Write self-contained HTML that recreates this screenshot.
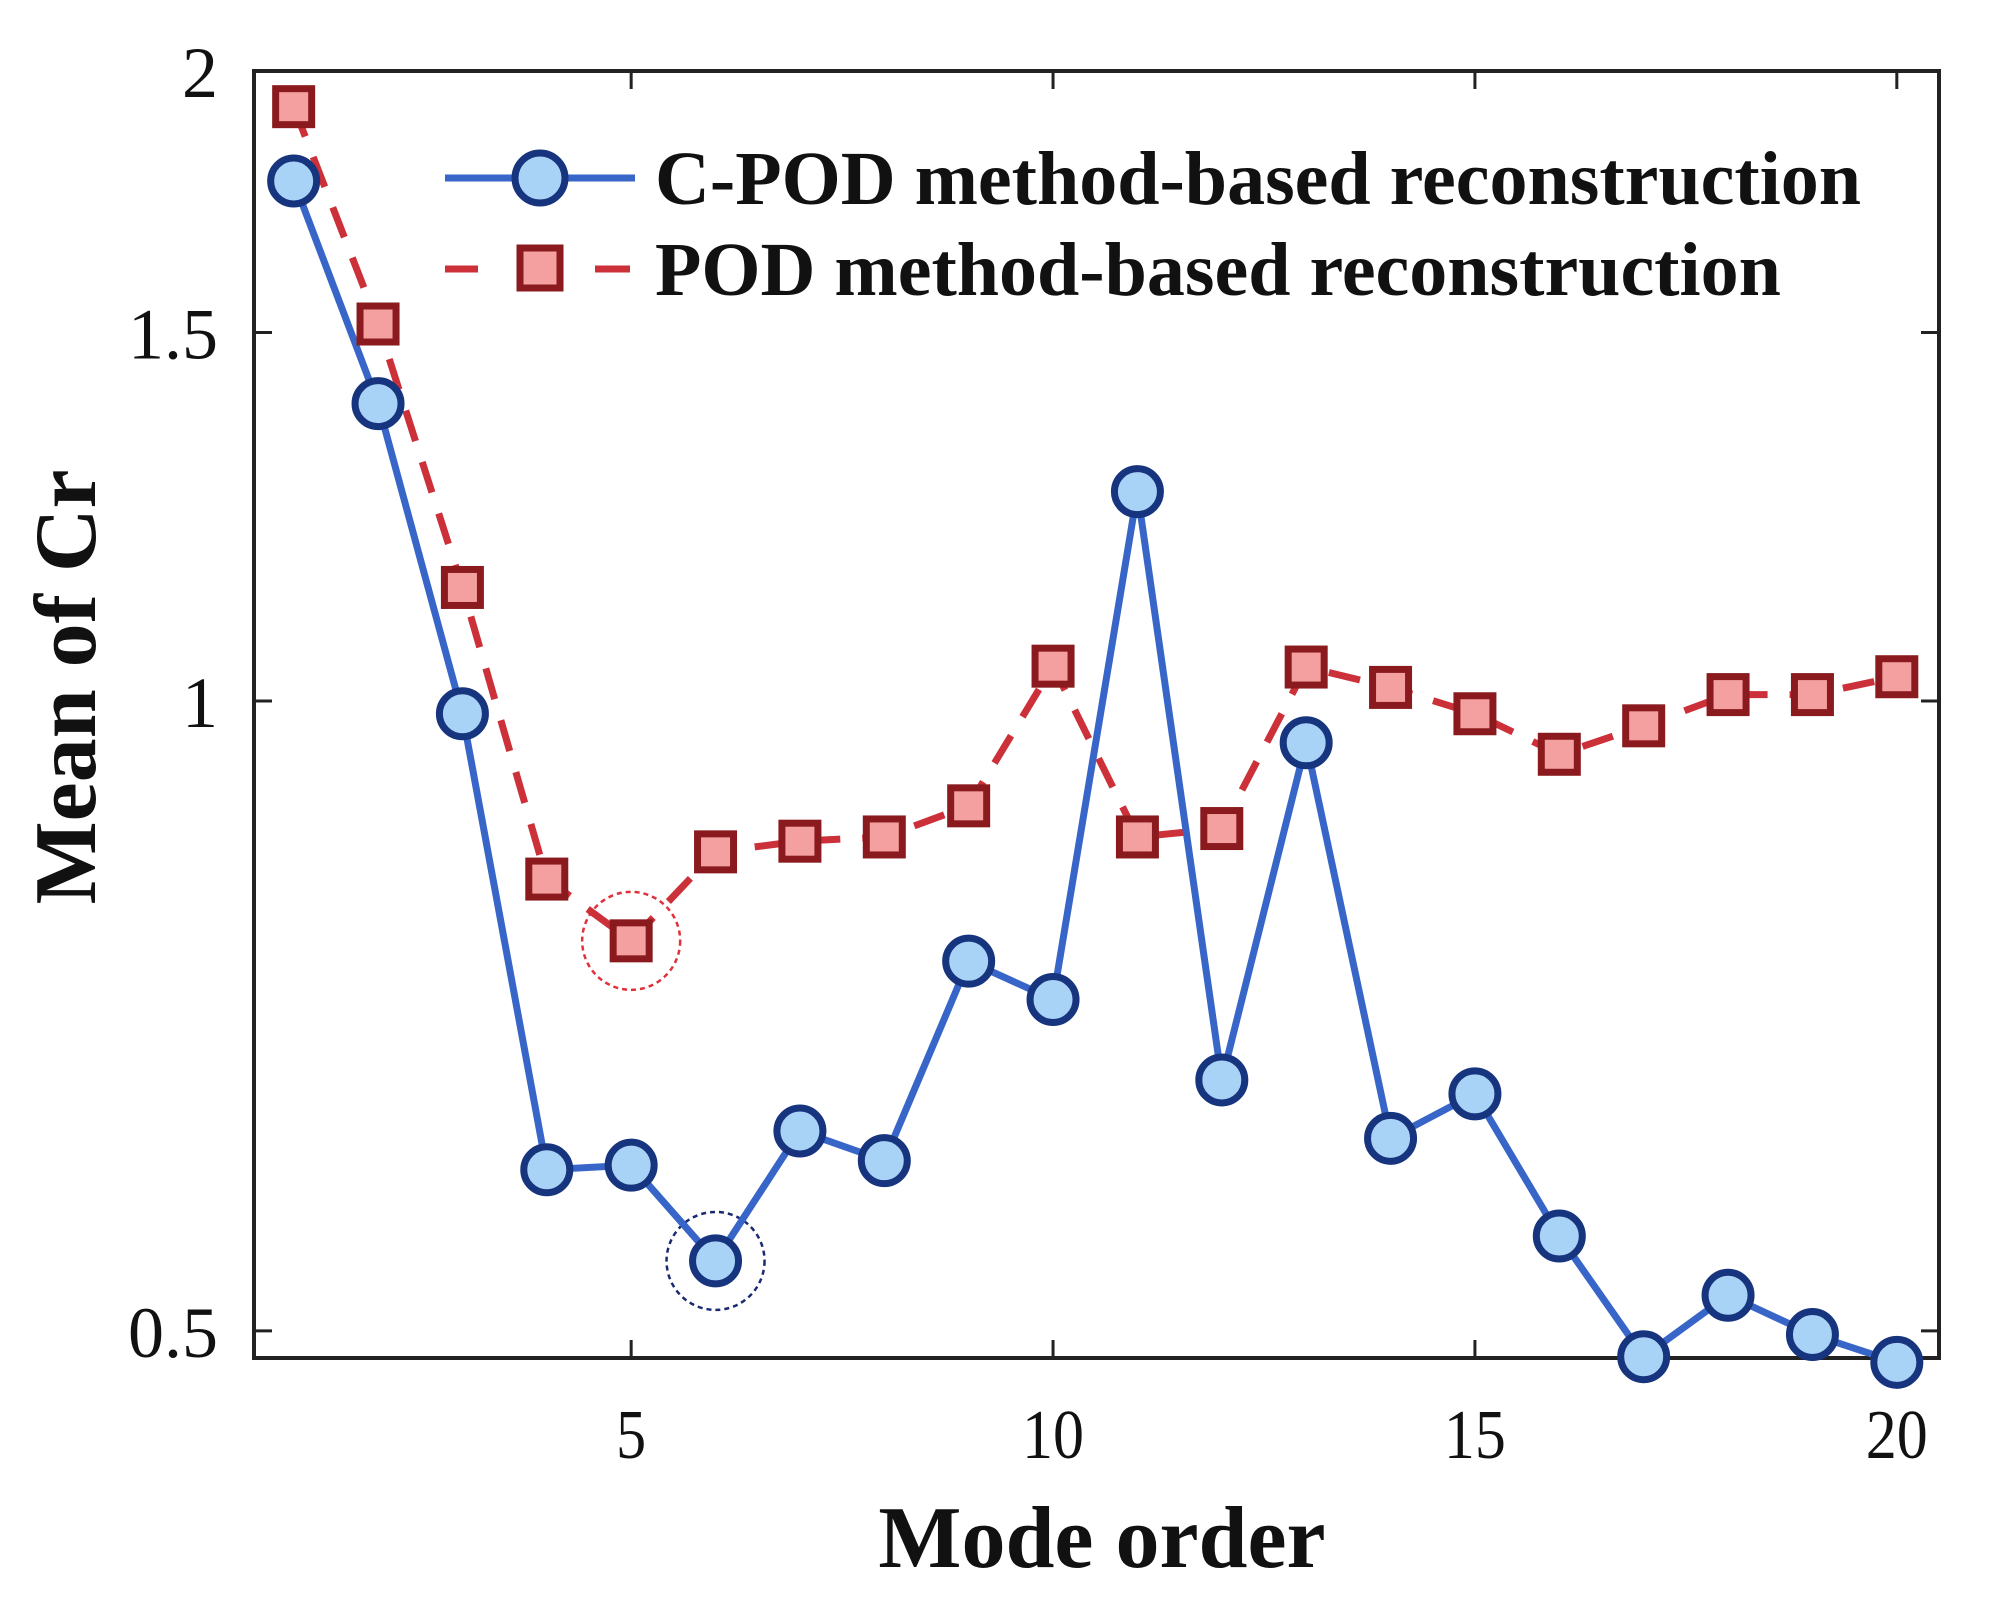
<!DOCTYPE html>
<html><head><meta charset="utf-8"><style>
html,body{margin:0;padding:0;background:#fff}
svg{display:block}
text{font-family:"Liberation Serif",serif}
</style></head><body>
<svg id="chart" width="1991" height="1599" viewBox="0 0 1991 1599" xmlns="http://www.w3.org/2000/svg">
<g id="axes"></g>
<g id="series"></g>
<g id="legend"></g>
</svg>
<script>
const modes = [1,2,3,4,5,6,7,8,9,10,11,12,13,14,15,16,17,18,19,20];
const cpodValues = [1.772,1.387,0.986,0.597,0.600,0.540,0.623,0.603,0.751,0.720,1.259,0.659,0.955,0.618,0.649,0.555,0.486,0.520,0.498,0.483];
const podValues = [1.923,1.514,1.133,0.822,0.768,0.847,0.857,0.861,0.891,1.039,0.861,0.869,1.038,1.015,0.986,0.943,0.973,1.007,1.007,1.027];
const xTicks = [5,10,15,20];
const yTicks = [0.5,1,1.5,2];
const yTickLabels = ["0.5","1","1.5","2"];

const L=254,R=1939,T=71,B=1358;
const xMin=0.53,xMax=20.5;
const yMin=0.4853,yMax=2;
function xs(v){return L+(v-xMin)/(xMax-xMin)*(R-L);}
function ys(v){return T+(Math.log(yMax)-Math.log(v))/(Math.log(yMax)-Math.log(yMin))*(B-T);}
const NS="http://www.w3.org/2000/svg";
function mk(tag,attrs,parent){const e=document.createElementNS(NS,tag);for(const k in attrs)e.setAttribute(k,attrs[k]);parent.appendChild(e);return e;}

const axes=document.getElementById('axes');
let box=mk('rect',{x:L,y:T,width:R-L,height:B-T,fill:'none',stroke:'#222','stroke-width':4},axes);


xTicks.forEach(t=>{
  const x=xs(t);
  let tk=mk('path',{d:`M${x},${B}V${B-18}M${x},${T}V${T+18}`,stroke:'#222','stroke-width':3},axes);
  
  
  let tl=mk('text',{x:x,y:B+100,'text-anchor':'middle','font-size':70,fill:'#111',textLength:t>=10?62:30,lengthAdjust:'spacingAndGlyphs'},axes);
  tl.textContent=t;
  
  
});
yTicks.forEach((t,i)=>{
  const y=ys(t);
  let tk=mk('path',{d:`M${L},${y}H${L+18}M${R},${y}H${R-18}`,stroke:'#222','stroke-width':3},axes);
  
  
  let tl=mk('text',{x:L-36,y:y+26,'text-anchor':'end','font-size':72,fill:'#111'},axes);
  tl.textContent=yTickLabels[i];
  
  
});
let xl=mk('text',{x:1102,y:1567,'text-anchor':'middle','font-size':88,'font-weight':'bold',fill:'#111'},axes);
xl.textContent='Mode order';


let yl=mk('text',{x:0,y:0,'text-anchor':'middle','font-size':88,'font-weight':'bold',fill:'#111',transform:`translate(95,${ys(1)-14}) rotate(-90)`},axes);
yl.textContent='Mean of Cr';



const ser=document.getElementById('series');
let h1=mk('circle',{cx:xs(5),cy:ys(podValues[4]),r:49,fill:'none',stroke:'#e0303a','stroke-width':2.5,'stroke-dasharray':'5,4'},ser);


let h2=mk('circle',{cx:xs(6),cy:ys(cpodValues[5]),r:49,fill:'none',stroke:'#1a2a70','stroke-width':2.5,'stroke-dasharray':'5,4'},ser);



let pp=mk('polyline',{points:modes.map((m,i)=>xs(m)+','+ys(podValues[i])).join(' '),fill:'none',stroke:'#cc3038','stroke-width':7,'stroke-dasharray':'32,22'},ser);


let cp=mk('polyline',{points:modes.map((m,i)=>xs(m)+','+ys(cpodValues[i])).join(' '),fill:'none',stroke:'#3866c8','stroke-width':7},ser);


modes.forEach((m,i)=>{
  let s=mk('rect',{x:xs(m)-18,y:ys(podValues[i])-18,width:36,height:36,fill:'#f5a0a0',stroke:'#8a1a1e','stroke-width':7},ser);
  
  
});
modes.forEach((m,i)=>{
  let c=mk('circle',{cx:xs(m),cy:ys(cpodValues[i]),r:23,fill:'#a8d2f6',stroke:'#17347e','stroke-width':7},ser);
  
  
});

const lg=document.getElementById('legend');
let l1=mk('path',{d:'M445,178H635',stroke:'#3866c8','stroke-width':7},lg);


let c1=mk('circle',{cx:540,cy:178,r:25,fill:'#a8d2f6',stroke:'#17347e','stroke-width':7},lg);


let t1=mk('text',{x:655,y:204,'font-size':76,'font-weight':'bold',fill:'#111'},lg);
t1.textContent='C-POD method-based reconstruction';


let l2=mk('path',{d:'M445,269H478M595,269H630',stroke:'#cc3038','stroke-width':7},lg);


let s2=mk('rect',{x:520,y:248,width:40,height:40,fill:'#f5a0a0',stroke:'#8a1a1e','stroke-width':7},lg);


let t2=mk('text',{x:655,y:295,'font-size':76,'font-weight':'bold',fill:'#111'},lg);
t2.textContent='POD method-based reconstruction';


</script>
</body></html>
